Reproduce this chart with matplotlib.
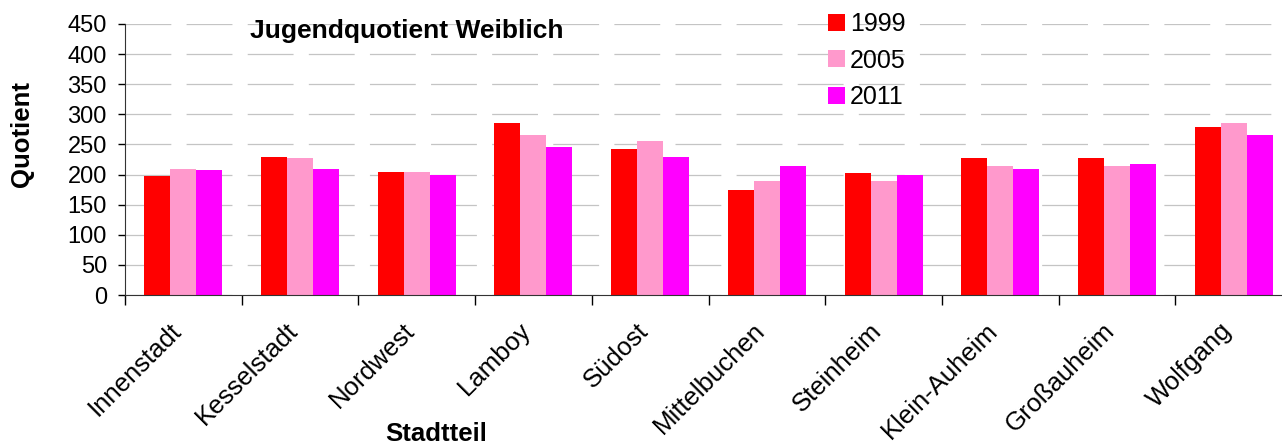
## Jugendquotient Weiblich - bar chart per Stadtteil

import numpy as np
import matplotlib
matplotlib.use('Agg')
import matplotlib.pyplot as plt
from matplotlib.transforms import ScaledTranslation

plt.rcParams['font.family'] = ['Liberation Sans', 'DejaVu Sans']
plt.rcParams['lines.scale_dashes'] = False

# --- Data ---
stadtteile = ['Innenstadt', 'Kesselstadt', 'Nordwest', 'Lamboy', 'Südost',
              'Mittelbuchen', 'Steinheim', 'Klein-Auheim', 'Großauheim', 'Wolfgang']
jahre = ['1999', '2005', '2011']
q1999 = [197, 229, 204, 285, 242, 174, 202, 227, 227, 279]
q2005 = [210, 227, 205, 265, 255, 190, 189, 214, 214, 285]
q2011 = [207, 210, 200, 245, 229, 214, 200, 210, 217, 265]
yticks = [0, 50, 100, 150, 200, 250, 300, 350, 400, 450]

colors = ['#ff0000', '#ff99cc', '#ff00ff']

W, H = 1282, 446
fig = plt.figure(figsize=(W / 100, H / 100), dpi=100)
# plot area runs a little past the right edge, like the original
ax = fig.add_axes([125 / W, 1 - 295 / H, 1167 / W, 271 / H])

x = np.arange(len(stadtteile))
bw = 0.223
for i, (vals, c, lab) in enumerate(zip([q1999, q2005, q2011], colors, jahre)):
    ax.bar(x + (i - 1) * bw, vals, width=bw, color=c, label=lab, zorder=2)

ax.set_xlim(-0.5, len(stadtteile) - 0.5)
ax.set_ylim(0, 450)
ax.set_yticks(yticks)
ax.tick_params(axis='y', labelsize=17, length=5, width=1, direction='out', pad=8)

# category labels centered, tick marks between categories
ax.set_xticks(x)
ax.set_xticklabels(stadtteile, rotation=45, ha='right', va='center',
                   rotation_mode='anchor', fontsize=18.5)
ax.tick_params(axis='x', which='major', length=0, pad=23)
shift = ScaledTranslation(-6 / 100, 0, fig.dpi_scale_trans)
for lbl in ax.get_xticklabels():
    lbl.set_transform(lbl.get_transform() + shift)
ax.set_xticks(np.arange(-0.5, len(stadtteile)), minor=True)
ax.tick_params(axis='x', which='minor', length=7, width=1, direction='out')

ax.set_axisbelow(True)
ax.yaxis.grid(True, color='#c4c4c4', linewidth=0.9, linestyle=(0, (33, 11)))
ax.spines['top'].set_visible(False)
ax.spines['right'].set_visible(False)
ax.spines['left'].set_color('#333333')
ax.spines['bottom'].set_color('#333333')

# texts
fig.text(250 / W, 1 - 38 / H, 'Jugendquotient Weiblich', fontsize=19,
         fontweight='bold', ha='left', va='baseline')
fig.text(22 / W, 1 - 134 / H, 'Quotient', fontsize=18.5, fontweight='bold',
         rotation=90, ha='center', va='center')
fig.text(436 / W, 1 - 441 / H, 'Stadtteil', fontsize=18.5, fontweight='bold',
         ha='center', va='baseline')

fig.legend(loc='upper left', bbox_to_anchor=(828 / W, 1 - 12 / H),
           frameon=False, fontsize=18, handlelength=0.68, handleheight=0.68,
           handletextpad=0.2, labelspacing=0.5, borderpad=0, borderaxespad=0)

fig.savefig('out.png', dpi=100)
